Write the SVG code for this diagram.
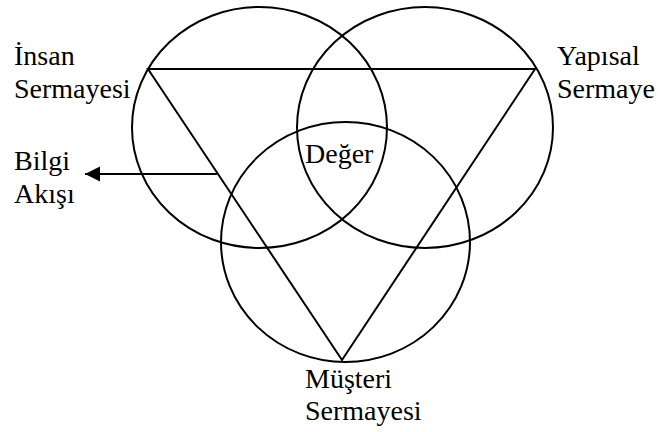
<svg xmlns="http://www.w3.org/2000/svg" width="661" height="432" viewBox="0 0 661 432">
<style>
.c{fill:none;stroke:#000;stroke-width:2}
.l{fill:none;stroke:#000;stroke-width:2}
.t{font-family:'Liberation Serif','Times New Roman',Times,serif;font-size:28px;fill:#000}
</style>
<defs>
<marker id="ah" markerWidth="16" markerHeight="16" refX="15" refY="7.5" orient="auto" markerUnits="userSpaceOnUse">
<path d="M0,0 L15,7.5 L0,15 Z" fill="#000"/>
</marker>
</defs>
<rect width="661" height="432" fill="#fff"/>
<g id="insan">
<ellipse class="c" cx="259.5" cy="127.5" rx="127.5" ry="120.5"/>
<text class="t" font-family="Liberation Serif, serif" font-size="28" x="14" y="65">İnsan</text>
<text class="t" font-family="Liberation Serif, serif" font-size="28" x="14" y="98">Sermayesi</text>
</g>
<g id="yapisal">
<ellipse class="c" cx="425" cy="127.5" rx="128" ry="120.5"/>
<text class="t" font-family="Liberation Serif, serif" font-size="28" x="557" y="65">Yapısal</text>
<text class="t" font-family="Liberation Serif, serif" font-size="28" x="557" y="98">Sermaye</text>
</g>
<g id="musteri">
<ellipse class="c" cx="345.5" cy="242" rx="124.5" ry="120"/>
<text class="t" font-family="Liberation Serif, serif" font-size="28" x="305" y="388">Müşteri</text>
<text class="t" font-family="Liberation Serif, serif" font-size="28" x="305" y="420">Sermayesi</text>
</g>
<g id="deger">
<text class="t" font-family="Liberation Serif, serif" font-size="28" x="305" y="163">Değer</text>
</g>
<g id="bilgi">
<text class="t" font-family="Liberation Serif, serif" font-size="28" x="14" y="170">Bilgi</text>
<text class="t" font-family="Liberation Serif, serif" font-size="28" x="14" y="203">Akışı</text>
</g>
<g id="connectors">
<polygon class="l" points="148,69 535,69 342,360"/>
<line class="l" x1="217" y1="174" x2="85" y2="174" marker-end="url(#ah)"/>
</g>
</svg>
